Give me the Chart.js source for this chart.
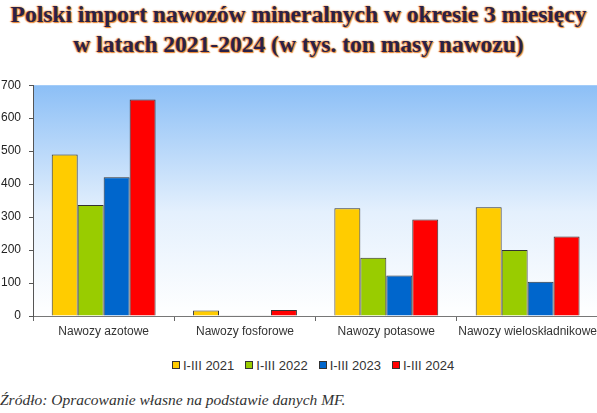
<!DOCTYPE html>
<html>
<head>
<meta charset="utf-8">
<script src="https://cdn.jsdelivr.net/npm/chart.js@4.4.1/dist/chart.umd.min.js"></script>
<style>
  html, body { margin: 0; padding: 0; background: #fff; width: 597px; height: 413px; overflow: hidden; position: relative; }
  #title {
    position: absolute; left: 0; top: -1px; width: 597px; text-align: center;
    font: bold 23.5px "Liberation Serif", serif; line-height: 30px;
    color: #2b2146;
    text-shadow: 0 0 2px #f0903a, 1px 1px 1px #e8802a, -1px 0 1px #f0a050;
  }
  #wrap { position: absolute; left: 0; top: 70px; width: 600px; height: 275px; }
  #legend {
    position: absolute; top: 358px; left: 172px; white-space: nowrap;
    font: 13px "Liberation Sans", Arial, sans-serif; color: #333;
  }
  #legend span.item { display: inline-block; margin-right: 11px; }
  #legend span.box { display: inline-block; width: 6px; height: 6px; border: 1px solid #333; margin-right: 3px; vertical-align: 1px; }
  #source {
    position: absolute; left: 0; top: 391px;
    font: italic 15.5px "Liberation Serif", serif; color: #333;
  }
</style>
</head>
<body>
<div id="title">Polski import nawozów mineralnych w okresie 3 miesięcy<br>w latach 2021-2024 (w tys. ton masy nawozu)</div>
<div id="wrap"><canvas id="chart"></canvas></div>
<div id="legend"></div>
<div id="source">Źródło: Opracowanie własne na podstawie danych MF.</div>
<script>
// categories
const categories = ['Nawozy azotowe', 'Nawozy fosforowe', 'Nawozy potasowe', 'Nawozy wieloskładnikowe'];

// series (tys. ton)
const seriesNames = ['I-III 2021', 'I-III 2022', 'I-III 2023', 'I-III 2024'];
const import2021 = [490, 17, 327, 330];
const import2022 = [337, 2, 177, 200];
const import2023 = [421, 2, 123, 104];
const import2024 = [657, 18, 293, 241];
const seriesColors = ['#ffcc00', '#99cc00', '#0066cc', '#ff0000'];

// y axis
const yTicks = [0, 100, 200, 300, 400, 500, 600, 700];

const allSeries = [import2021, import2022, import2023, import2024];

// background gradient behind the bars
const plotBg = {
  id: 'plotBg',
  beforeDraw(chart) {
    const { ctx, chartArea: a } = chart;
    if (!a) return;
    const g = ctx.createLinearGradient(0, a.top, 0, a.bottom);
    g.addColorStop(0, '#8cbff6');
    g.addColorStop(0.55, '#e4f0fd');
    g.addColorStop(1, '#ffffff');
    ctx.save();
    ctx.fillStyle = g;
    ctx.fillRect(a.left, a.top, a.right - a.left + 10, a.bottom - a.top);
    ctx.restore();
  }
};

const ctx = document.getElementById('chart').getContext('2d');
new Chart(ctx, {
  type: 'bar',
  data: {
    labels: categories,
    datasets: allSeries.map((vals, i) => ({
      label: seriesNames[i],
      data: vals,
      backgroundColor: seriesColors[i],
      borderColor: '#333333',
      borderWidth: 1,
      categoryPercentage: 0.735,
      barPercentage: 1.0
    }))
  },
  options: {
    responsive: true,
    maintainAspectRatio: false,
    animation: false,
    layout: { padding: { top: 9, right: 0, left: 0, bottom: 0 } },
    plugins: {
      legend: { display: false },
      tooltip: { enabled: false },
      title: { display: false }
    },
    scales: {
      x: {
        afterFit(scale) { scale.height = 29; },
        grid: {
          offset: true,
          drawOnChartArea: false,
          drawTicks: true,
          tickLength: 5,
          color: '#666'
        },
        border: { color: '#777', width: 1 },
        ticks: {
          color: '#333',
          padding: 3,
          maxRotation: 0,
          autoSkip: false,
          font: { family: 'Liberation Sans', size: 12 }
        }
      },
      y: {
        min: 0,
        max: 700,
        afterFit(scale) { scale.width = 33; },
        afterBuildTicks(scale) { scale.ticks = yTicks.map(v => ({ value: v })); },
        grid: {
          drawOnChartArea: false,
          drawTicks: true,
          tickLength: 4,
          color: '#555'
        },
        border: { color: '#555', width: 1 },
        ticks: {
          color: '#222',
          padding: 8,
          font: { family: 'Liberation Sans', size: 12 }
        }
      }
    }
  },
  plugins: [plotBg]
});

// legend built from the series arrays
const legend = document.getElementById('legend');
seriesNames.forEach((name, i) => {
  const item = document.createElement('span');
  item.className = 'item';
  const box = document.createElement('span');
  box.className = 'box';
  box.style.background = seriesColors[i];
  item.appendChild(box);
  item.appendChild(document.createTextNode(name));
  legend.appendChild(item);
});
</script>
</body>
</html>
